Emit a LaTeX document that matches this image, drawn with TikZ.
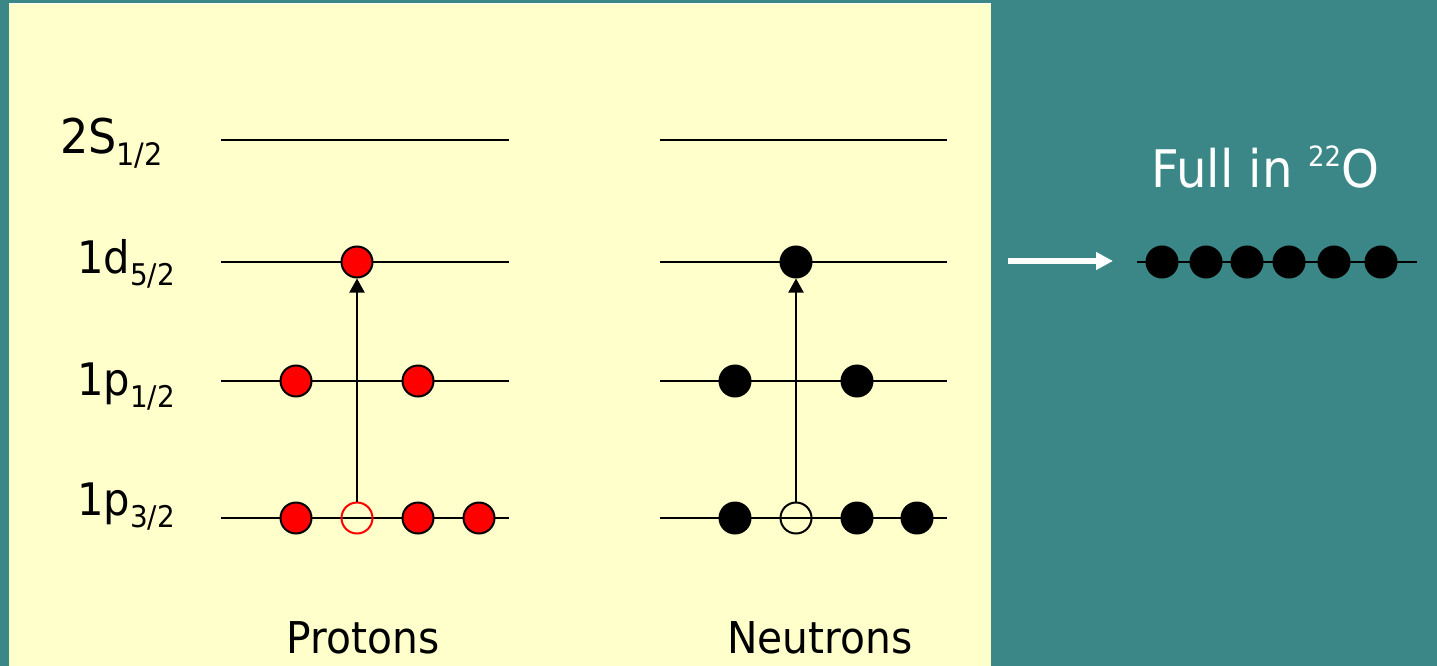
\documentclass[tikz,border=0pt]{standalone}
\usepackage{fontspec}
\setmainfont{DejaVu Sans}[FakeStretch=0.93]
\usetikzlibrary{arrows.meta}
\definecolor{bgteal}{HTML}{3B8787}
\definecolor{panelyellow}{HTML}{FFFFCC}
\definecolor{protonred}{HTML}{FF0000}
\newcommand{\lsub}[1]{\raisebox{-0.27em}{\fontsize{30}{30}\selectfont #1}}
\begin{document}
\begin{tikzpicture}[x=1bp,y=-1bp,
  level/.style={line width=2.4bp,black},
  orb/.style={circle,minimum size=31bp,inner sep=0pt,line width=2bp,draw=black},
  pfull/.style={orb,fill=protonred},
  phole/.style={orb,draw=protonred,fill=none},
  nfull/.style={orb,fill=black},
  nhole/.style={orb,fill=none},
  lab/.style={anchor=base west,inner sep=0pt,font=\fontsize{45}{54}\selectfont},
  excite/.style={line width=2bp,-{Triangle[length=14bp,width=15bp]}},
  title/.style={anchor=base,inner sep=0pt,font=\fontsize{44}{52}\selectfont}
]
\useasboundingbox (0,0) rectangle (1437,666);
\fill[bgteal] (0,0) rectangle (1437,666);
\fill[panelyellow] (9,3) rectangle (991,666);
\draw[white,line width=1bp] (9,3.5) -- (991,3.5);

% level labels
\node[lab,font=\fontsize{48}{58}\selectfont] (l2s) at (60,153) {2S\raisebox{-0.26em}{\fontsize{31}{31}\selectfont 1/2}};
\node[lab] (l1d) at (77,273) {1d\lsub{5/2}};
\node[lab] (l1p1) at (77,395) {1p\lsub{1/2}};
\node[lab] (l1p3) at (77,515) {1p\lsub{3/2}};

% level line end points
\foreach \n/\y in {s/140,d/262,pa/381,pb/518}{
  \coordinate (PA\n) at (221,\y);
  \coordinate (PB\n) at (509,\y);
  \coordinate (NA\n) at (660,\y);
  \coordinate (NB\n) at (947,\y);
}
\foreach \n in {s,d,pa,pb}{
  \draw[level] (PA\n) -- (PB\n);
  \draw[level] (NA\n) -- (NB\n);
}

% protons
\node[pfull] (pd) at (357,262) {};
\node[pfull] (pa1) at (296,381) {};
\node[pfull] (pa2) at (418,381) {};
\node[pfull] (pb1) at (296,518) {};
\node[phole] (pb2) at (357,518) {};
\node[pfull] (pb3) at (418,518) {};
\node[pfull] (pb4) at (479,518) {};
\draw[excite] (pb2.north) -- (pd.south);

% neutrons
\node[nfull] (nd) at (796,262) {};
\node[nfull] (na1) at (735,381) {};
\node[nfull] (na2) at (857,381) {};
\node[nfull] (nb1) at (735,518) {};
\node[nhole] (nb2) at (796,518) {};
\node[nfull] (nb3) at (857,518) {};
\node[nfull] (nb4) at (917,518) {};
\draw[excite] (nb2.north) -- (nd.south);

\node[title] (prot) at (363,653) {Protons};
\node[title] (neut) at (820,653) {Neutrons};

% right side
\coordinate (wa) at (1008,261);
\coordinate (wb) at (1113,261);
\draw[white,line width=6.5bp,-{Triangle[length=17bp,width=17bp]}] (wa) -- (wb);

\coordinate (oa) at (1137,262);
\coordinate (ob) at (1417,262);
\draw[level] (oa) -- (ob);
\foreach \i/\x in {1/1162,2/1206,3/1247,4/1289,5/1334,6/1381}{
  \node[nfull] (o\i) at (\x,262) {};
}
\node[anchor=base west,inner sep=0pt,text=white,font=\fontsize{52}{62}\selectfont] (full) at (1151,187)
  {Full in \raisebox{0.4em}{\fontsize{28}{28}\selectfont 22}O};
\end{tikzpicture}
\end{document}
